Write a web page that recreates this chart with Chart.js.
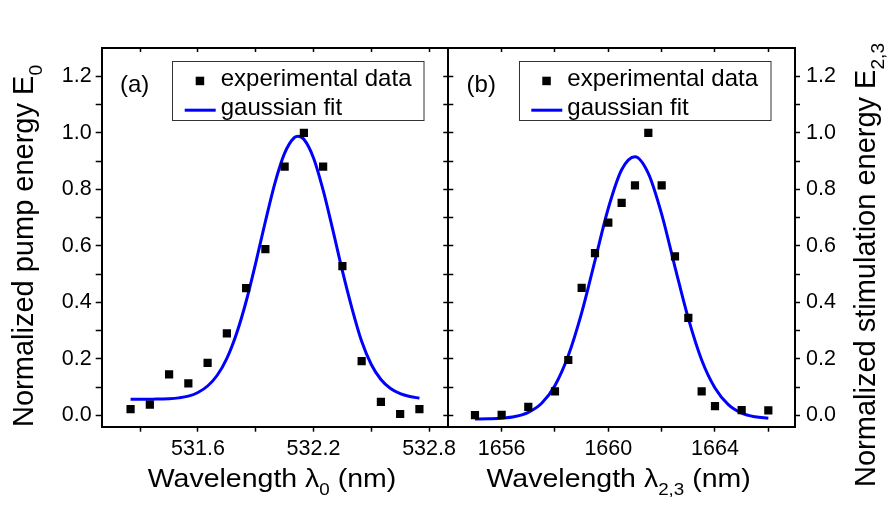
<!DOCTYPE html>
<html><head><meta charset="utf-8">
<script src="https://cdn.jsdelivr.net/npm/chart.js@4.4.0/dist/chart.umd.min.js"></script>
<style>
html,body{margin:0;padding:0;background:#fff;}
#wrap{position:relative;width:893px;height:513px;background:#fff;}
canvas{position:absolute;left:0;top:0;}
</style></head><body>
<div id="wrap"><canvas id="ca" width="893" height="513"></canvas><canvas id="cb" width="893" height="513"></canvas></div>
<script>
// ---------- data: panel (a) ----------
const aWavelength = [531.25,531.35,531.45,531.55,531.65,531.75,531.85,531.95,532.05,532.15,532.25,532.35,532.45,532.55,532.65,532.75];
const aEnergy     = [0.022,0.038,0.145,0.113,0.186,0.290,0.450,0.588,0.880,1.000,0.880,0.528,0.192,0.048,0.005,0.022];
const aFitX = [531.25,531.30,531.35,531.40,531.45,531.50,531.55,531.60,531.65,531.70,531.75,531.80,531.85,531.90,531.95,532.00,532.05,532.10,532.12,532.15,532.20,532.25,532.30,532.35,532.40,532.45,532.50,532.55,532.60,532.65,532.70,532.75];
const aFitY = [0.057,0.057,0.057,0.058,0.059,0.062,0.068,0.081,0.104,0.142,0.202,0.289,0.403,0.540,0.686,0.823,0.928,0.983,0.988,0.977,0.911,0.797,0.657,0.511,0.378,0.262,0.180,0.127,0.095,0.077,0.067,0.061];
const aXTickValues = [531.3,531.6,531.9,532.2,532.5,532.8];
const aXTickLabels = ['','531.6','','532.2','','532.8'];

// ---------- data: panel (b) ----------
const bWavelength = [1655,1656,1657,1658,1658.5,1659,1659.5,1660,1660.5,1661,1661.5,1662,1662.5,1663,1663.5,1664,1665,1666];
const bEnergy     = [0.001,0.002,0.030,0.085,0.196,0.451,0.574,0.682,0.752,0.814,1.000,0.814,0.563,0.345,0.085,0.033,0.019,0.018];
const bFitX = [1655,1655.5,1656,1656.5,1657,1657.5,1658,1658.5,1659,1659.5,1660,1660.5,1661,1661.5,1662,1662.5,1663,1663.5,1664,1664.5,1665,1665.5,1666];
const bFitY = [-0.013,-0.012,-0.010,-0.004,0.011,0.043,0.106,0.212,0.363,0.548,0.733,0.869,0.915,0.856,0.712,0.525,0.343,0.196,0.097,0.038,0.008,-0.005,-0.010];
const bXTickValues = [1656,1658,1660,1662,1664,1666];
const bXTickLabels = ['1656','','1660','','1664',''];

// ---------- shared y ticks ----------
const yTickValues = [0,0.1,0.2,0.3,0.4,0.5,0.6,0.7,0.8,0.9,1.0,1.1,1.2];
const yTickLabels = ['0.0','','0.2','','0.4','','0.6','','0.8','','1.0','','1.2'];

const FAM = '"Liberation Sans", Arial, Helvetica, sans-serif';
const BLUE = '#0000ff';

function ticksAt(values){ return axis => { axis.ticks = values.map(v => ({value: v})); }; }
function fixW(w){ return axis => { axis.width = w; }; }
function fixH(h){ return axis => { axis.height = h; }; }
function grid(len){ return {display:true, drawOnChartArea:false, drawTicks:true, tickLength:len, tickColor:'#000', tickWidth:1.5}; }
const border = {display:true, color:'#000', width:2};
const tickFont = {family: FAM, size: 21.5};

function xy(xs, ys){ return xs.map((x,i) => ({x:x, y:ys[i]})); }

const SUB = 0.66;
function drawRich(ctx, parts, size){
  let x = 0;
  for (const [t, sub] of parts){
    const s = sub ? size*SUB : size;
    ctx.font = s + 'px ' + FAM;
    ctx.fillText(t, x, sub ? size*0.30 : 0);
    x += ctx.measureText(t).width;
  }
  return x;
}
function richWidth(ctx, parts, size){
  let w = 0;
  for (const [t, sub] of parts){
    ctx.font = (sub ? size*SUB : size) + 'px ' + FAM;
    w += ctx.measureText(t).width;
  }
  return w;
}

function decor(cfg){
  return {
    id: 'decor',
    afterDraw(chart){
      const ctx = chart.ctx, a = chart.chartArea;
      ctx.save();
      ctx.fillStyle = '#000';
      ctx.textBaseline = 'alphabetic';
      ctx.textAlign = 'left';
      // panel label
      ctx.font = '24px ' + FAM;
      ctx.fillText(cfg.label, a.left + 18.3, a.top + 43.5);
      // legend box
      const bx = a.left + 70.5, by = a.top + 13.2, bw = 251.5, bh = 59;
      ctx.strokeStyle = '#333';
      ctx.lineWidth = 1;
      ctx.strokeRect(Math.round(bx)+0.5, Math.round(by)+0.5, bw, bh);
      ctx.fillRect(bx + 23.5, by + 15.5, 8.5, 8.5);
      ctx.strokeStyle = BLUE;
      ctx.lineWidth = 3;
      ctx.beginPath(); ctx.moveTo(bx + 12.5, by + 49); ctx.lineTo(bx + 43.5, by + 49); ctx.stroke();
      ctx.font = '24px ' + FAM;
      ctx.fillText('experimental data', bx + 48.5, by + 24.5);
      ctx.fillText('gaussian fit', bx + 48.5, by + 53.5);
      // x title (slightly wide lettering as in the original figure)
      const sx = 1.14;
      const xw = richWidth(ctx, cfg.xTitle, 25) * sx;
      ctx.save();
      ctx.translate((a.left + a.right)/2 - xw/2 - 3, 487);
      ctx.scale(sx, 1);
      drawRich(ctx, cfg.xTitle, 25);
      ctx.restore();
      // y title (reads bottom to top)
      ctx.save();
      ctx.translate(cfg.yTitleX, cfg.yTitleY);
      ctx.rotate(-Math.PI/2);
      drawRich(ctx, cfg.yTitle, 29);
      ctx.restore();
      ctx.restore();
    }
  };
}

const common = {
  responsive:false, animation:false, devicePixelRatio:1,
  layout:{padding:0},
  plugins:{legend:{display:false}, tooltip:{enabled:false}}
};

function datasets(px, py, fx, fy){
  return [
    {label:'experimental data', data: xy(px, py), showLine:false, pointStyle:'rect', pointRadius:5.8, pointBorderWidth:0, pointBackgroundColor:'#000', pointBorderColor:'#000'},
    {label:'gaussian fit', data: xy(fx, fy), showLine:true, pointRadius:0, borderColor:BLUE, borderWidth:3, cubicInterpolationMode:'monotone', fill:false}
  ];
}

// ---------- panel (a) ----------
new Chart(document.getElementById('ca'), {
  type:'scatter',
  data:{datasets: datasets(aWavelength, aEnergy, aFitX, aFitY)},
  options: Object.assign({}, common, {
    scales:{
      x:{type:'linear', position:'bottom', min:531.1, max:532.9, afterBuildTicks:ticksAt(aXTickValues), afterFit:fixH(86.3),
         border, grid:grid(5), ticks:{font:tickFont, color:'#000', padding:4, maxRotation:0, autoSkip:false, callback:(v,i)=>aXTickLabels[i]}},
      x2:{type:'linear', position:'top', min:531.1, max:532.9, afterBuildTicks:ticksAt(aXTickValues), afterFit:fixH(48),
         border, grid:grid(-4), ticks:{display:false}},
      y:{type:'linear', position:'left', min:-0.04, max:1.3, afterBuildTicks:ticksAt(yTickValues), afterFit:fixW(101.7),
         border, grid:grid(6), ticks:{font:tickFont, color:'#000', padding:4, autoSkip:false, callback:(v,i)=>yTickLabels[i]}},
      y2:{type:'linear', position:'right', min:-0.04, max:1.3, afterBuildTicks:ticksAt(yTickValues), afterFit:fixW(444.7),
         border, grid:grid(5), ticks:{display:false}}
    }
  }),
  plugins:[decor({label:'(a)', xTitle:[['Wavelength \u03bb',false],['0',true],[' (nm)',false]],
                  yTitle:[['Normalized pump energy E',false],['0',true]], yTitleX:33.3, yTitleY:427})]
});

// ---------- panel (b) ----------
new Chart(document.getElementById('cb'), {
  type:'scatter',
  data:{datasets: datasets(bWavelength, bEnergy, bFitX, bFitY)},
  options: Object.assign({}, common, {
    scales:{
      x:{type:'linear', position:'bottom', min:1654, max:1667, afterBuildTicks:ticksAt(bXTickValues), afterFit:fixH(86.3),
         border, grid:grid(5), ticks:{font:tickFont, color:'#000', padding:4, maxRotation:0, autoSkip:false, callback:(v,i)=>bXTickLabels[i]}},
      x2:{type:'linear', position:'top', min:1654, max:1667, afterBuildTicks:ticksAt(bXTickValues), afterFit:fixH(48),
         border, grid:grid(-4), ticks:{display:false}},
      yL:{type:'linear', position:'left', min:-0.04, max:1.3, afterBuildTicks:ticksAt(yTickValues), afterFit:fixW(448.3),
         border, grid:grid(5), ticks:{display:false}},
      y:{type:'linear', position:'right', min:-0.04, max:1.3, afterBuildTicks:ticksAt(yTickValues), afterFit:fixW(98),
         border, grid:grid(5), ticks:{font:tickFont, color:'#000', padding:6, autoSkip:false, callback:(v,i)=>yTickLabels[i]}}
    }
  }),
  plugins:[decor({label:'(b)', xTitle:[['Wavelength \u03bb',false],['2,3',true],[' (nm)',false]],
                  yTitle:[['Normalized stimulation energy E',false],['2,3',true]], yTitleX:875, yTitleY:487})]
});
</script>
</body></html>
